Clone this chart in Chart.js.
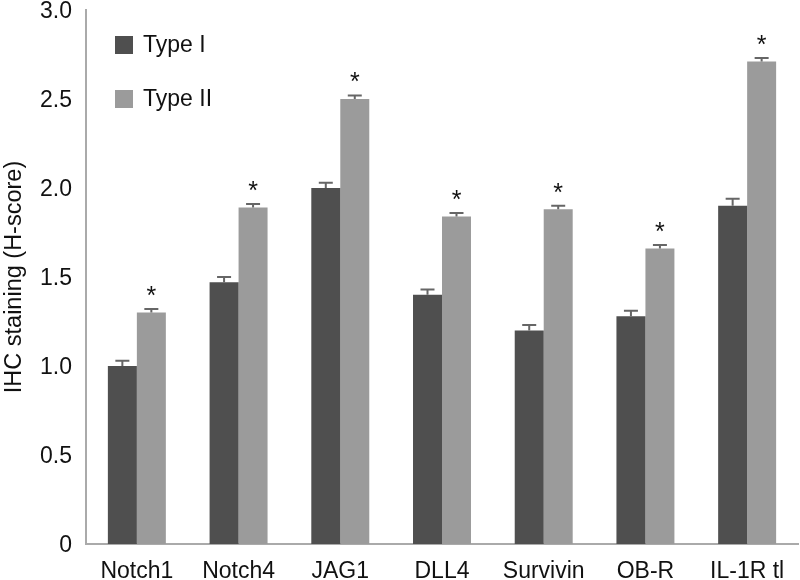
<!DOCTYPE html>
<html>
<head>
<meta charset="utf-8">
<script src="https://cdn.jsdelivr.net/npm/chart.js@4/dist/chart.umd.min.js"></script>
<style>
html,body{margin:0;padding:0;background:#fff;}
#wrap{width:800px;height:580px;position:relative;}
</style>
</head>
<body>
<div id="wrap"><canvas id="c" width="800" height="580"></canvas></div>
<script>
const categories = ['Notch1', 'Notch4', 'JAG1', 'DLL4', 'Survivin', 'OB-R', 'IL-1R tl'];
const seriesNames = ['Type I', 'Type II'];
const typeI = [1.00, 1.47, 2.00, 1.40, 1.20, 1.28, 1.90];
const typeII = [1.30, 1.89, 2.50, 1.84, 1.88, 1.66, 2.71];
const typeIErr = [0.03, 0.03, 0.03, 0.03, 0.03, 0.03, 0.04];
const typeIIErr = [0.02, 0.02, 0.02, 0.02, 0.02, 0.02, 0.02];
const significant = [true, true, true, true, true, true, true];
const yTickLabels = ['0', '0.5', '1.0', '1.5', '2.0', '2.5', '3.0'];
const yTitle = 'IHC staining (H-score)';

const FONT = "'Liberation Sans', Arial, Helvetica, sans-serif";
const DARK = '#4f4f4f';
const LIGHT = '#9b9b9b';

const errorBarPlugin = {
  id: 'errorBars',
  afterDatasetsDraw(chart) {
    const ctx = chart.ctx;
    const y = chart.scales.y;
    const errs = [typeIErr, typeIIErr];
    ctx.save();
    chart.data.datasets.forEach((ds, di) => {
      const meta = chart.getDatasetMeta(di);
      meta.data.forEach((bar, i) => {
        const v = ds.data[i];
        const e = errs[di][i];
        const top = y.getPixelForValue(v + e);
        const base = y.getPixelForValue(v);
        ctx.strokeStyle = '#666';
        ctx.lineWidth = 2;
        ctx.beginPath();
        ctx.moveTo(bar.x, base);
        ctx.lineTo(bar.x, top);
        ctx.moveTo(bar.x - 7, top);
        ctx.lineTo(bar.x + 7, top);
        ctx.stroke();
        if (di === 1 && significant[i]) {
          ctx.fillStyle = '#111';
          ctx.font = '25px ' + FONT;
          ctx.textAlign = 'center';
          ctx.textBaseline = 'alphabetic';
          ctx.fillText('*', bar.x, top - 5);
        }
      });
    });
    ctx.restore();
  }
};

const legendPlugin = {
  id: 'innerLegend',
  afterDraw(chart) {
    const ctx = chart.ctx;
    ctx.save();
    const rows = [45, 99];
    chart.data.datasets.forEach((ds, di) => {
      const cy = rows[di];
      ctx.fillStyle = ds.backgroundColor;
      ctx.fillRect(115, cy - 9, 18, 18);
      ctx.fillStyle = '#111';
      ctx.font = '23px ' + FONT;
      ctx.textAlign = 'left';
      ctx.textBaseline = 'middle';
      ctx.fillText(ds.label, 143, cy + 1);
    });
    ctx.restore();
  }
};

new Chart(document.getElementById('c'), {
  type: 'bar',
  data: {
    labels: categories,
    datasets: [
      { label: seriesNames[0], data: typeI, backgroundColor: DARK, categoryPercentage: 0.57, barPercentage: 1.0 },
      { label: seriesNames[1], data: typeII, backgroundColor: LIGHT, categoryPercentage: 0.57, barPercentage: 1.0 }
    ]
  },
  options: {
    responsive: false,
    animation: false,
    devicePixelRatio: 1,
    layout: { padding: { left: 0, right: 2, top: 10, bottom: 0 } },
    plugins: { legend: { display: false }, tooltip: { enabled: false } },
    scales: {
      x: {
        grid: { display: false, drawTicks: false },
        border: { display: true, color: '#aaa', width: 2 },
        ticks: { color: '#111', font: { family: FONT, size: 23 }, padding: 14, maxRotation: 0, autoSkip: false },
        afterFit(s) { s.height = 36; s.paddingLeft = 0; s.paddingRight = 0; }
      },
      y: {
        min: 0, max: 3,
        grid: { display: false, drawTicks: false },
        border: { display: true, color: '#aaa', width: 2 },
        ticks: {
          stepSize: 0.5,
          color: '#111',
          font: { family: FONT, size: 23 },
          padding: 14,
          labelOffset: 2,
          callback: (v, i) => yTickLabels[i]
        },
        title: { display: true, text: yTitle, color: '#111', font: { family: FONT, size: 23.5 }, padding: { top: 0, bottom: 0 } },
        afterFit(s) { s.width = 86; s.paddingTop = 0; s.paddingBottom = 0; }
      }
    }
  },
  plugins: [errorBarPlugin, legendPlugin]
});
</script>
</body>
</html>
